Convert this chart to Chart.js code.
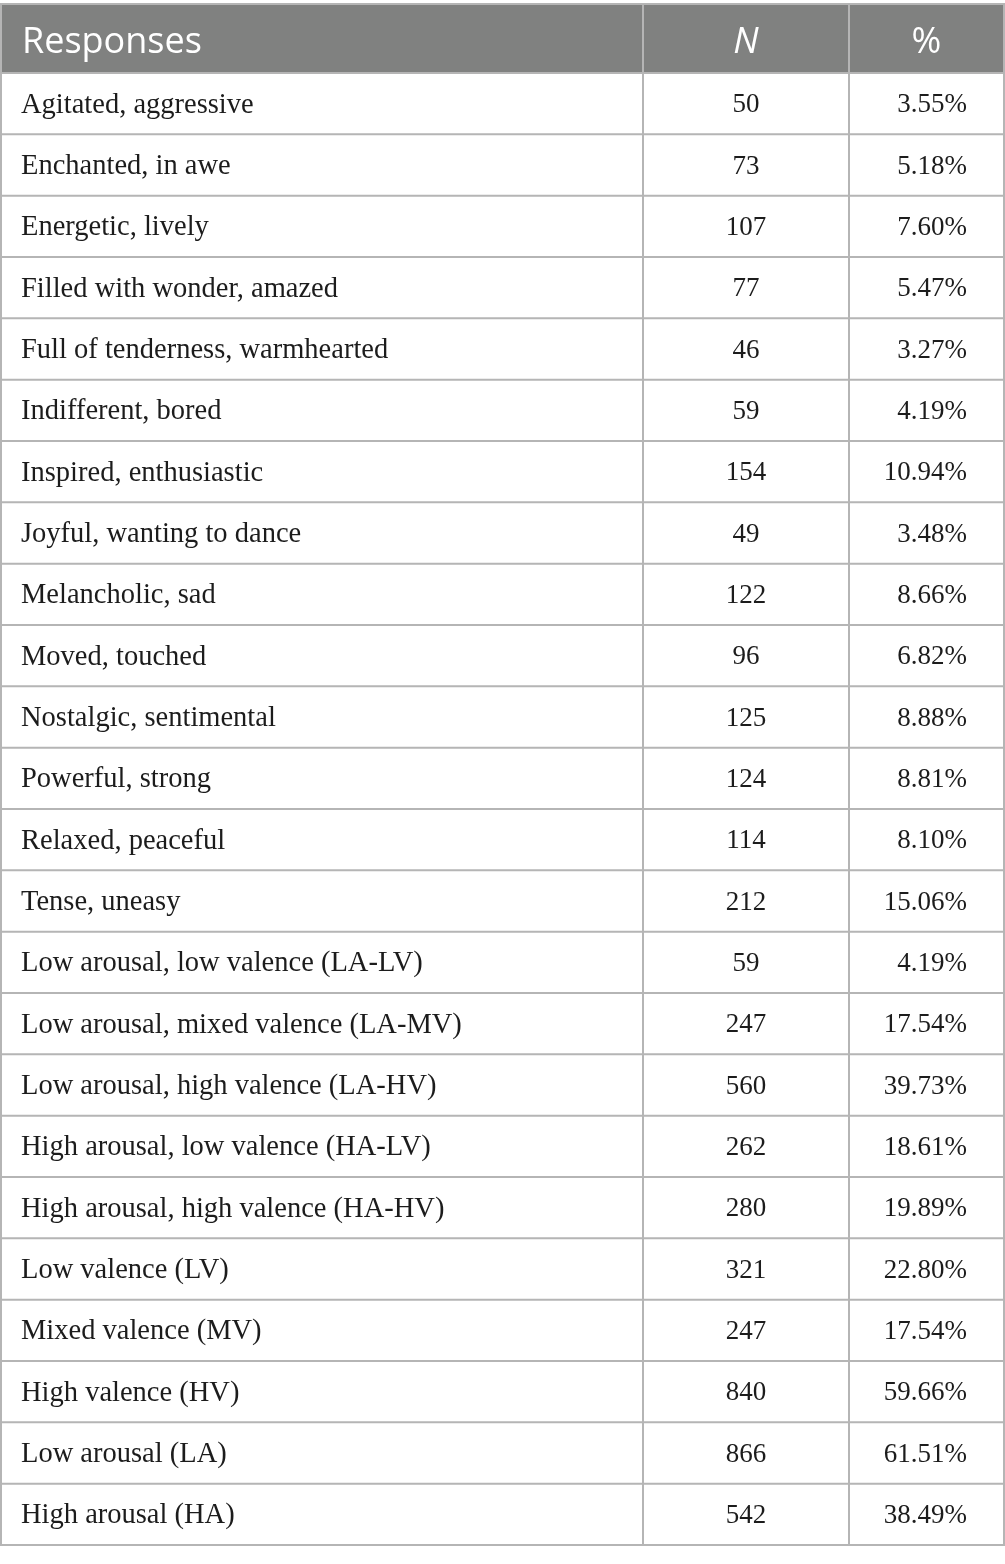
<!DOCTYPE html>
<html>
<head>
<meta charset="utf-8">
<script src="https://cdn.jsdelivr.net/npm/chart.js@4/dist/chart.umd.min.js"></script>
<style>
    html, body { margin: 0; padding: 0; background: #fff; }
    #wrap { width: 1005px; height: 1564px; }
</style>
</head>
<body>
<div id="wrap"><canvas id="responsesTable"></canvas></div>
<script>
const headers = ['Responses', 'N', '%'];

const responses = [
    'Agitated, aggressive',
    'Enchanted, in awe',
    'Energetic, lively',
    'Filled with wonder, amazed',
    'Full of tenderness, warmhearted',
    'Indifferent, bored',
    'Inspired, enthusiastic',
    'Joyful, wanting to dance',
    'Melancholic, sad',
    'Moved, touched',
    'Nostalgic, sentimental',
    'Powerful, strong',
    'Relaxed, peaceful',
    'Tense, uneasy',
    'Low arousal, low valence (LA-LV)',
    'Low arousal, mixed valence (LA-MV)',
    'Low arousal, high valence (LA-HV)',
    'High arousal, low valence (HA-LV)',
    'High arousal, high valence (HA-HV)',
    'Low valence (LV)',
    'Mixed valence (MV)',
    'High valence (HV)',
    'Low arousal (LA)',
    'High arousal (HA)'
];

const counts = [50, 73, 107, 77, 46, 59, 154, 49, 122, 96, 125, 124, 114, 212,
    59, 247, 560, 262, 280, 321, 247, 840, 866, 542];

const percents = [3.55, 5.18, 7.60, 5.47, 3.27, 4.19, 10.94, 3.48, 8.66, 6.82, 8.88, 8.81, 8.10, 15.06,
    4.19, 17.54, 39.73, 18.61, 19.89, 22.80, 17.54, 59.66, 61.51, 38.49];

// column edges on the x scale (pixels of a 0..1005 wide table)
const colEdges = [1, 643, 849, 1004];
const headerHeight = 69;
const gridColor = '#b5b5b5';
const headerColor = '#808180';
const textColor = '#1c1c1c';

const tablePlugin = {
    id: 'tablePlugin',
    afterDraw(chart) {
        const { ctx, chartArea } = chart;
        const x = chart.scales.x;
        const y = chart.scales.y;
        const half = (y.getPixelForValue(1) - y.getPixelForValue(0)) / 2;
        const cx = colEdges.map(v => x.getPixelForValue(v));
        const left = cx[0];
        const right = cx[3];
        const headTop = chartArea.top - headerHeight;

        ctx.save();

        // header band
        ctx.fillStyle = headerColor;
        ctx.fillRect(left, headTop, right - left, headerHeight);

        ctx.fillStyle = '#ffffff';
        ctx.textBaseline = 'alphabetic';
        ctx.font = '36px "Open Sans"';
        ctx.textAlign = 'left';
        ctx.fillText(headers[0], cx[0] + 21, headTop + 49);
        ctx.font = 'italic 36px "Open Sans"';
        ctx.textAlign = 'center';
        ctx.fillText(headers[1], (cx[1] + cx[2]) / 2, headTop + 49);
        ctx.font = '36px "Open Sans"';
        ctx.fillText(headers[2], (cx[2] + cx[3]) / 2, headTop + 49);

        // body text
        ctx.fillStyle = textColor;
        ctx.textBaseline = 'middle';
        responses.forEach((label, i) => {
            const cy = y.getPixelForValue(i) + 1.5;
            ctx.font = '28.5px "Liberation Serif"';
            ctx.textAlign = 'left';
            ctx.fillText(label, cx[0] + 20, cy);
            ctx.font = '27px "Liberation Serif"';
            ctx.textAlign = 'center';
            ctx.fillText(String(counts[i]), (cx[1] + cx[2]) / 2, cy);
            ctx.textAlign = 'right';
            ctx.fillText(percents[i].toFixed(2) + '%', cx[3] - 37, cy);
        });

        // grid lines
        ctx.strokeStyle = gridColor;
        ctx.lineWidth = 2;
        ctx.beginPath();
        responses.forEach((label, i) => {
            const yb = y.getPixelForValue(i) + half;
            ctx.moveTo(left, yb);
            ctx.lineTo(right, yb);
        });
        ctx.moveTo(left, chartArea.top);
        ctx.lineTo(right, chartArea.top);
        [cx[1], cx[2]].forEach(v => {
            ctx.moveTo(v, headTop);
            ctx.lineTo(v, chartArea.bottom);
        });
        ctx.stroke();

        // outer border
        ctx.strokeRect(left, headTop, right - left, chartArea.bottom - headTop);

        ctx.restore();
    }
};

new Chart(document.getElementById('responsesTable'), {
    type: 'scatter',
    data: {
        labels: responses,
        datasets: []
    },
    options: {
        responsive: true,
        maintainAspectRatio: false,
        animation: false,
        devicePixelRatio: 1,
        layout: {
            padding: { top: 73, bottom: 19, left: 0, right: 0 }
        },
        plugins: {
            legend: { display: false },
            tooltip: { enabled: false }
        },
        scales: {
            x: { type: 'linear', min: 0, max: 1005, offset: false, display: false },
            y: { type: 'category', offset: true, display: false }
        }
    },
    plugins: [tablePlugin]
});
</script>
</body>
</html>
